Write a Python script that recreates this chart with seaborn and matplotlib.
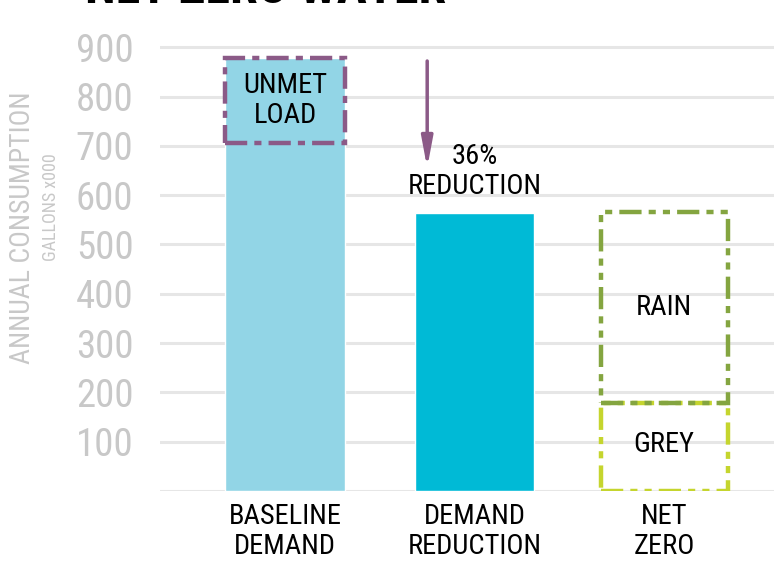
import matplotlib
matplotlib.use("Agg")
import matplotlib.pyplot as plt
import seaborn as sns
import pandas as pd

# ── DATA ──────────────────────────────────────────────────────────────────────
categories = ["BASELINE\nDEMAND", "DEMAND\nREDUCTION", "NET\nZERO"]
demand = [878, 564, 0]           # filled bars
unmet_bottom, unmet_top = 706, 878
grey_water = 178
rain_water = 566 - 178
y_ticks = [100, 200, 300, 400, 500, 600, 700, 800, 900]

BASE_BLUE = "#92D5E6"
DEEP_BLUE = "#00BAD6"
PURPLE = "#8B5A87"
GREEN = "#84A540"
LIME = "#C5D52E"
GRID = "#E6E6E6"
TICK_GREY = "#C8C8C8"

sns.set_theme(style="white")
plt.rcParams["font.family"] = ["Roboto Condensed", "Roboto", "DejaVu Sans"]

fig = plt.figure(figsize=(7.74, 5.61), dpi=100)
ax = fig.add_axes([0.2067, 0.1248, 0.7933, 0.835])

df = pd.DataFrame({"cat": categories, "val": demand})
sns.barplot(data=df, x="cat", y="val", hue="cat",
            palette=[BASE_BLUE, DEEP_BLUE, DEEP_BLUE], width=0.63,
            saturation=1, legend=False, ax=ax, zorder=2)

# dashed outline boxes
x = list(range(len(categories)))
ax.bar(x[0], unmet_top - unmet_bottom, bottom=unmet_bottom, width=0.63,
       fill=False, edgecolor=PURPLE, linewidth=3.2,
       linestyle=(0, (5, 1.6, 1.6, 1.6)), zorder=3)
ax.bar(x[2], grey_water, width=0.67, fill=False, edgecolor=LIME,
       linewidth=3.2, linestyle=(0, (5, 1.6, 1.6, 1.6, 1.6, 1.6)), zorder=3)
ax.bar(x[2], rain_water, bottom=grey_water, width=0.67, fill=False,
       edgecolor=GREEN, linewidth=3.2,
       linestyle=(0, (5, 1.6, 1.6, 1.6, 1.6, 1.6)), zorder=3)

# annotations
ax.text(x[0], (unmet_bottom + unmet_top) / 2, "UNMET\nLOAD", ha="center",
        va="center", fontsize=20.5, color="black", linespacing=1.1, zorder=4)
ax.text(x[1], 648, "36%\nREDUCTION", ha="center", va="center",
        fontsize=20.5, color="black", linespacing=1.1, zorder=4)
ax.text(x[2], grey_water + rain_water / 2 + 0, "RAIN", ha="center",
        va="center", fontsize=20.5, color="black", zorder=4)
ax.text(x[2], grey_water / 2 + 6, "GREY", ha="center", va="center",
        fontsize=20.5, color="black", zorder=4)
ax.annotate("", xy=(x[1] - 0.25, 655), xytext=(x[1] - 0.25, 872),
            arrowprops=dict(arrowstyle="-|>,head_width=0.28,head_length=1.5",
                            color=PURPLE, lw=2.5, shrinkA=0, shrinkB=0),
            zorder=4)

# axes styling
ax.set_xlim(-0.66, 2.58)
ax.set_ylim(0, 950)
ax.set_yticks(y_ticks)
ax.yaxis.grid(True, color=GRID, linewidth=2.2, zorder=0)
ax.axhline(0, color=GRID, linewidth=2.2, zorder=1)
ax.set_axisbelow(True)
for s in ax.spines.values():
    s.set_visible(False)
ax.tick_params(axis="y", length=0, pad=19, labelsize=28, labelcolor=TICK_GREY)
ax.tick_params(axis="x", length=0, pad=9, labelsize=20.5, labelcolor="black")
for lab in ax.get_xticklabels():
    lab.set_linespacing(1.1)
ax.set_xlabel("")
ax.set_ylabel("")

fig.text(0.029, 0.594, "ANNUAL CONSUMPTION", rotation=90, ha="center",
         va="center", fontsize=20, color=TICK_GREY)
fig.text(0.066, 0.631, "GALLONS x000", rotation=90, ha="center",
         va="center", fontsize=13, color=TICK_GREY)

fig.text(0.11, 0.995, "NET ZERO WATER", ha="left", va="baseline",
         fontsize=36, fontweight="bold", color="black")

fig.savefig("out.png", dpi=100)
